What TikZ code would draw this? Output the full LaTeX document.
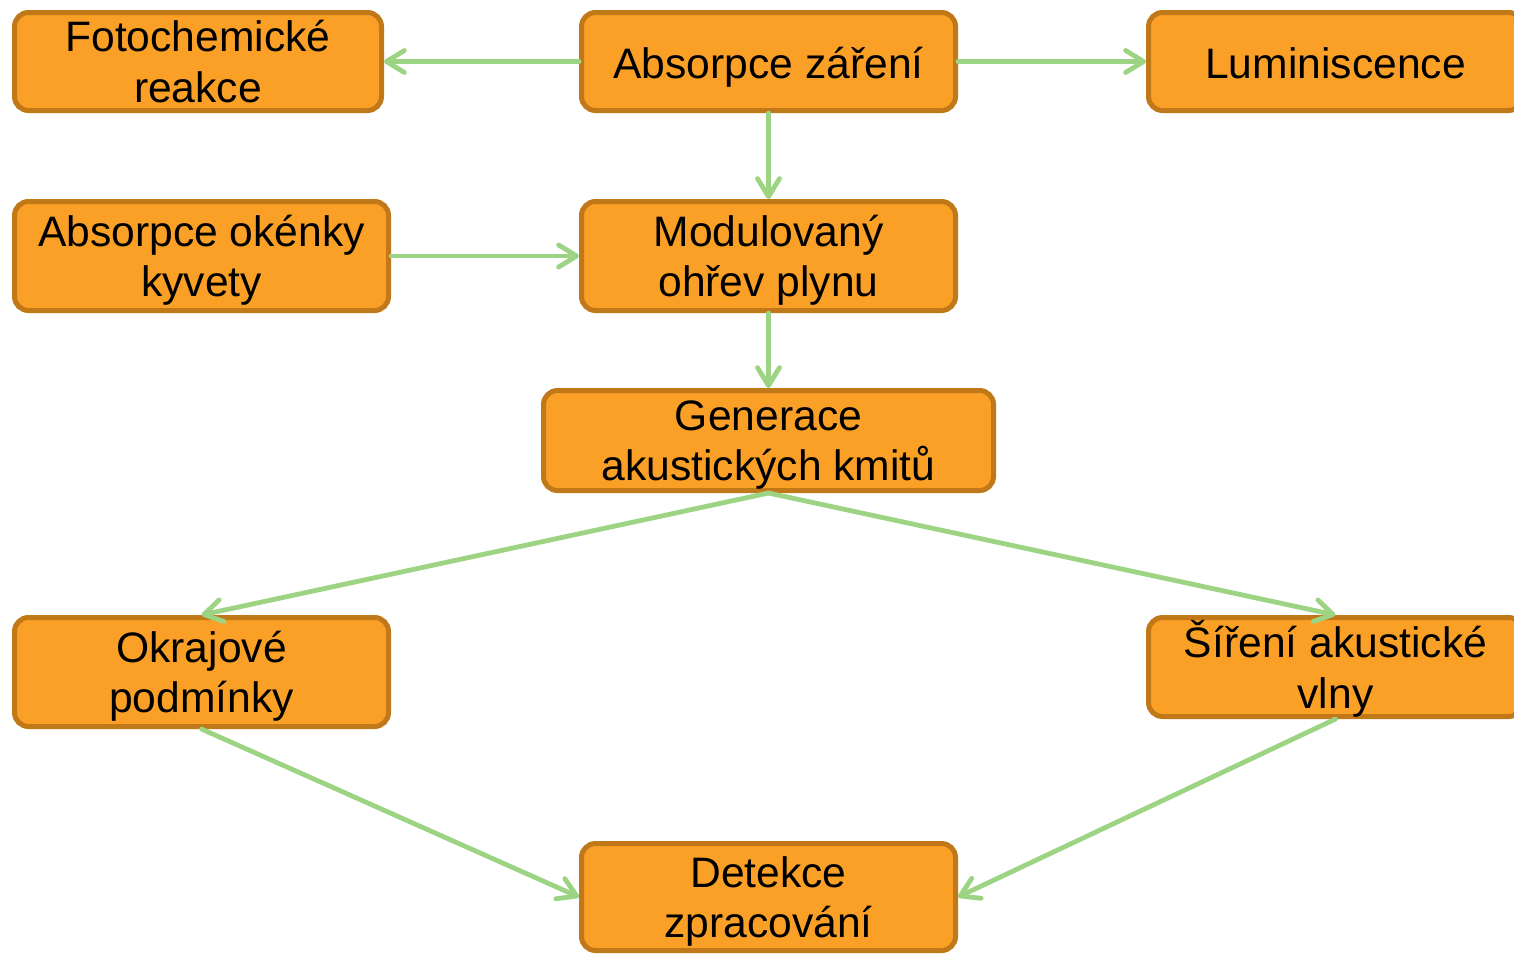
\documentclass[tikz,border=0pt]{standalone}
\usepackage{fontspec}
\setmainfont{Liberation Sans}
\usetikzlibrary{arrows.meta}
\definecolor{oranzova}{HTML}{FBA026}
\definecolor{okraj}{HTML}{C07818}
\definecolor{zelena}{HTML}{9DD483}
\tikzset{
    blok/.style={draw=okraj, fill=oranzova, line width=2.5pt, rounded corners=7pt,
        align=center, inner sep=0pt, minimum width=187pt, text depth=0pt,
        font=\fontsize{21.3}{25.3}\selectfont},
    jeden/.style={text height=16.5pt, text depth=0pt}, % jednoradkovy text
    sipka/.style={draw=zelena, line width=2.4pt, line cap=round,
        -{Straight Barb[length=9pt,width=11pt,round]}}
}
\begin{document}
\begin{tikzpicture}[x=0.5pt,y=-0.5pt]
        \useasboundingbox (0,0) rectangle (1514,953);

        % Bloky
        \node[blok, minimum width=183.5pt, minimum height=49pt] (foto) at (198,61.5) {Fotochemické\\reakce};
        \node[blok, jeden, minimum height=49pt] (absorpce) at (768.5,61.5) {Absorpce záření};
        \node[blok, jeden, minimum height=49pt] (lumin) at (1335.5,61.5) {Luminiscence};
        \node[blok, minimum height=54.5pt] (okenka) at (201.5,256) {Absorpce okénky\\kyvety};
        \node[blok, minimum height=54.5pt] (ohrev) at (768.5,256) {Modulovaný\\ohřev plynu};
        \node[blok, minimum width=225pt, minimum height=50pt] (generace) at (768.5,440.5) {Generace\\akustických kmitů};
        \node[blok, minimum height=54.5pt] (okraj) at (201.5,672) {Okrajové\\podmínky};
        \node[blok, text depth=2.5pt, minimum height=49.5pt] (sireni) at (1335.5,667) {Šíření akustické\\vlny};
        \node[blok, minimum height=53.5pt] (detekce) at (768.5,897) {Detekce\\zpracování};

        % Sipky
        \draw[sipka] (absorpce.west) -- (foto.east);
        \draw[sipka] (absorpce.east) -- (lumin.west);
        \draw[sipka] (absorpce.south) -- (ohrev.north);
        \draw[sipka] (okenka.east) -- (ohrev.west);
        \draw[sipka] (ohrev.south) -- (generace.north);
        \draw[sipka] (generace.south) -- (okraj.north);   % vlevo dolu
        \draw[sipka] (generace.south) -- (sireni.north);  % vpravo dolu
        \draw[sipka] (okraj.south) -- (detekce.west);
        \draw[sipka] (sireni.south) -- (detekce.east);
    \end{tikzpicture}
\end{document}
